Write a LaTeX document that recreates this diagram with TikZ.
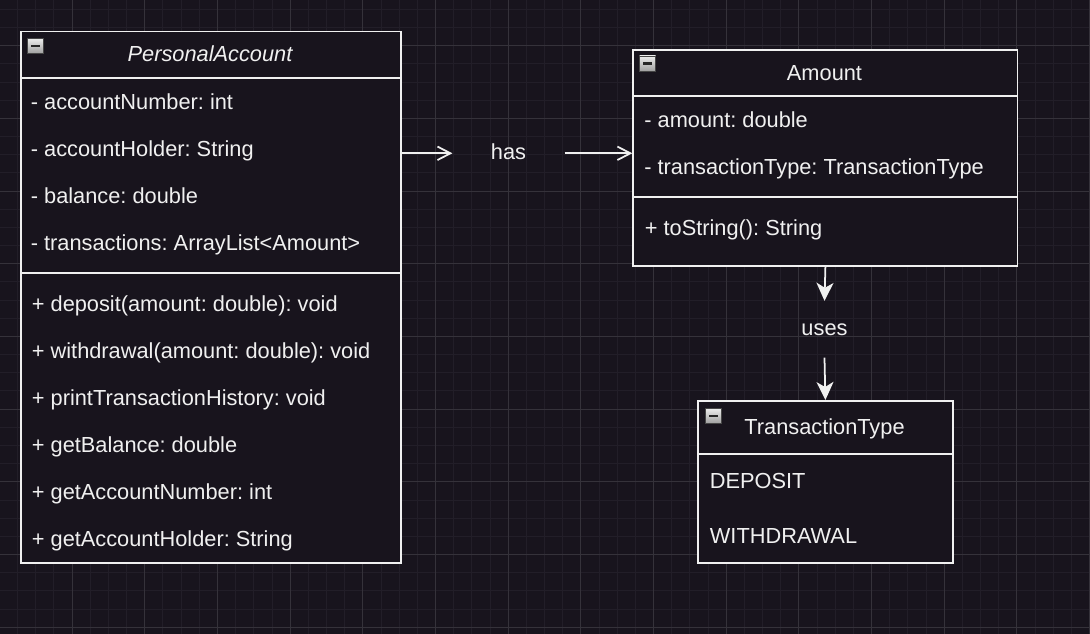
\documentclass[tikz,border=0pt]{standalone}
\usepackage{fontspec}
\setmainfont{Liberation Sans}
\usepackage{tikz}
\usepackage{xcolor}
\definecolor{canvas}{HTML}{18141D}
\definecolor{ink}{HTML}{F0F0F0}
\definecolor{gridminor}{HTML}{221E28}
\definecolor{gridmajor}{HTML}{35323A}
\usetikzlibrary{arrows.meta}
\usetikzlibrary{positioning}
\usetikzlibrary{calc}
\tikzset{pics/.cd, collapse/.style={code={%
			\shade[top color=gray!15, bottom color=gray!75, draw=gray!55!black, line width=0.5pt] (0,0) rectangle (16,15);
			\draw[line width=1.3pt, color=black!85] (3.5,7.5) -- (12.5,7.5);}}}
\frenchspacing

\begin{document}
\begin{tikzpicture}[x=0.02cm, y=-0.02cm, line width=1pt,
	every node/.style={text=ink, font=\fontsize{12.4pt}{14pt}\selectfont, inner sep=0pt},
	classbox/.style={draw=ink, fill=canvas, anchor=north west},
	title/.style={anchor=base},
	member/.style={anchor=base west},
	edgelabel/.style={text height=0.74em, text depth=0pt},
	hasline/.style={draw=ink, -{Straight Barb[length=0.26cm, width=0.27cm]}},
	useline/.style={draw=ink, -{Stealth[length=0.36cm, width=0.34cm, inset=0.1cm]}}]
	
	% background grid
	\fill[canvas] (0,0) rectangle (1090,634);
	\useasboundingbox (0,0) rectangle (1090,634);
	\foreach \i in {0,...,60}
		\draw[gridminor, line width=0.5pt] ({-0.6+18.17*\i},0) -- ({-0.6+18.17*\i},634);
	\foreach \j in {0,...,34}
		\draw[gridminor, line width=0.5pt] (0,{9.36+18.17*\j}) -- (1090,{9.36+18.17*\j});
	\foreach \i in {0,...,15}
		\draw[gridmajor, line width=0.5pt] ({-0.6+72.67*\i},0) -- ({-0.6+72.67*\i},634);
	\foreach \j in {0,...,8}
		\draw[gridmajor, line width=0.5pt] (0,{45.7+72.67*\j}) -- (1090,{45.7+72.67*\j});
	
	% PersonalAccount
	\node[classbox, minimum width=7.6cm, minimum height=10.63cm] (pa) at (20,30.7) {};
	\draw[ink] ($(pa.north west)+(0,47)$) -- ($(pa.north east)+(0,47)$);
	\draw[ink] ($(pa.north west)+(0,242)$) -- ($(pa.north east)+(0,242)$);
	\path (27.5,38.5) pic {collapse};
	\node[title, font=\fontsize{12.4pt}{14pt}\selectfont\itshape] (pa-name) at (210,61.7) {PersonalAccount};
	\node[member] (pa-f1) at (30,110) {- accountNumber: int};
	\node[member] (pa-f2) at (30,157) {- accountHolder: String};
	\node[member] (pa-f3) at (30,204) {- balance: double};
	\node[member] (pa-f4) at (30,251) {- transactions: ArrayList<Amount>};
	\node[member] (pa-m1) at (31,312) {+ deposit(amount: double): void};
	\node[member] (pa-m2) at (31,359) {+ withdrawal(amount: double): void};
	\node[member] (pa-m3) at (31,406) {+ printTransactionHistory: void};
	\node[member] (pa-m4) at (31,453) {+ getBalance: double};
	\node[member] (pa-m5) at (31,500) {+ getAccountNumber: int};
	\node[member] (pa-m6) at (31,547) {+ getAccountHolder: String};
	
	% Amount
	\node[classbox, minimum width=7.69cm, minimum height=4.33cm] (amount) at (632.3,49) {};
	\draw[ink] ($(amount.north west)+(0,46.7)$) -- ($(amount.north east)+(0,46.7)$);
	\draw[ink] ($(amount.north west)+(0,148.3)$) -- ($(amount.north east)+(0,148.3)$);
	\path (639.5,56) pic {collapse};
	\node[title] (amount-name) at (824.5,80.7) {Amount};
	\node[member] (amount-f1) at (643.5,127.3) {- amount: double};
	\node[member] (amount-f2) at (643.5,174.3) {- transactionType: TransactionType};
	\node[member] (amount-m1) at (644,236) {+ toString(): String};
	
	% TransactionType
	\node[classbox, minimum width=5.09cm, minimum height=3.25cm] (ttype) at (697.3,400) {};
	\draw[ink] ($(ttype.north west)+(0,54.3)$) -- ($(ttype.north east)+(0,54.3)$);
	\path (705.5,408.5) pic {collapse};
	\node[title] (ttype-name) at (824.5,434.3) {TransactionType};
	\node[member] (ttype-v1) at (709,488.7) {DEPOSIT};
	\node[member] (ttype-v2) at (709,543.7) {WITHDRAWAL};
	
	% relations
	\node[edgelabel, minimum width=2.21cm] (has) at (508.5,153.3) {has};
	\node[edgelabel, minimum height=1.1cm] (uses) at (824.5,329.2) {uses};
	\draw[hasline] (pa.east |- has.west) -- (has.west);
	\draw[hasline] (has.east) -- (amount.west |- has.east);
	\draw[useline] (amount.south) -- (uses.north);
	\draw[useline] (uses.south) -- (ttype.north);
	
\end{tikzpicture}
\end{document}
